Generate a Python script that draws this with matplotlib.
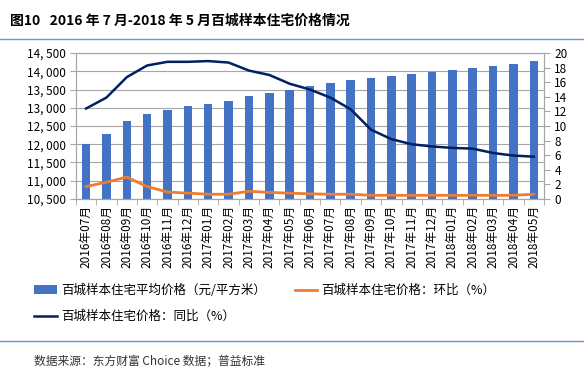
import numpy as np
import matplotlib.pyplot as plt
from matplotlib.lines import Line2D
from matplotlib.ticker import FuncFormatter, MultipleLocator

plt.rcParams['font.family'] = ['Noto Sans CJK SC', 'DejaVu Sans']

# 月份
months = ['2016年07月', '2016年08月', '2016年09月', '2016年10月', '2016年11月', '2016年12月',
          '2017年01月', '2017年02月', '2017年03月', '2017年04月', '2017年05月', '2017年06月',
          '2017年07月', '2017年08月', '2017年09月', '2017年10月', '2017年11月', '2017年12月',
          '2018年01月', '2018年02月', '2018年03月', '2018年04月', '2018年05月']

# 百城样本住宅平均价格（元/平方米）
avg_price = [12000, 12270, 12630, 12820, 12930, 13040, 13100, 13180, 13310, 13400, 13500, 13590,
             13680, 13750, 13810, 13870, 13930, 13980, 14040, 14090, 14150, 14190, 14280]
# 环比（%）
mom = [1.7, 2.3, 3.0, 1.7, 0.95, 0.8, 0.65, 0.65, 1.05, 0.9, 0.8, 0.7,
       0.65, 0.65, 0.5, 0.5, 0.5, 0.5, 0.5, 0.5, 0.5, 0.5, 0.65]
# 同比（%）
yoy = [12.4, 13.9, 16.7, 18.3, 18.8, 18.8, 18.9, 18.7, 17.6, 17.0, 15.8, 15.0,
       13.9, 12.3, 9.5, 8.2, 7.5, 7.2, 7.0, 6.9, 6.3, 5.95, 5.8]

blue = '#4472C4'
orange = '#ED7D31'
navy = '#002060'
grid_c = '#A6A6A6'

fig = plt.figure(figsize=(5.84, 3.79), dpi=100)
ax = fig.add_axes([0.130, 0.475, 0.8015, 0.385])
x = np.arange(len(months))

bars = ax.bar(x, avg_price, width=0.42, color=blue, zorder=2)
ax.set_ylim(10500, 14500)
ax.set_xlim(-0.5, len(months) - 0.5)
ax.yaxis.set_major_locator(MultipleLocator(500))
ax.yaxis.set_major_formatter(FuncFormatter(lambda v, p: f'{int(v):,}'.replace(',', ', ')))
ax.grid(axis='y', color=grid_c, linewidth=0.8, zorder=0)
ax.set_axisbelow(True)

ax.set_xticks(x)
ax.set_xticklabels(months, rotation=90, fontsize=8.5)
ax.set_xticks(np.arange(-0.5, len(months), 1), minor=True)
ax.tick_params(axis='x', which='major', length=0, pad=4)
ax.tick_params(axis='x', which='minor', length=4, color=grid_c, direction='out')
ax.tick_params(axis='y', labelsize=8.5, length=4, color=grid_c)

ax2 = ax.twinx()
l1, = ax2.plot(x, mom, color=orange, linewidth=2, zorder=3)
l2, = ax2.plot(x, yoy, color=navy, linewidth=1.8, zorder=3)
ax2.set_ylim(0, 20)
ax2.yaxis.set_major_locator(MultipleLocator(2))
ax2.tick_params(axis='y', labelsize=8.5, length=4, color=grid_c)

for a in (ax, ax2):
    for s in a.spines.values():
        s.set_color(grid_c)
        s.set_linewidth(0.8)

fig.legend([bars, l2, l1],
           ['百城样本住宅平均价格（元/平方米）', '百城样本住宅价格：同比（%）', '百城样本住宅价格：环比（%）'],
           ncol=2, loc='upper left', bbox_to_anchor=(0.050, 0.264), frameon=False,
           fontsize=9, handlelength=1.8, handletextpad=0.35, columnspacing=2.3,
           labelspacing=1.05, borderaxespad=0)

fig.text(0.017, 0.945, '图10   2016 年 7 月-2018 年 5 月百城样本住宅价格情况',
         fontsize=10, fontweight='bold', va='center')
fig.add_artist(Line2D([0, 1], [0.897, 0.897], color='#5B9BD5', linewidth=1))
fig.add_artist(Line2D([0, 1], [0.100, 0.100], color='#5B9BD5', linewidth=1))
fig.text(0.058, 0.048, '数据来源：东方财富 Choice 数据；普益标准', fontsize=8.5, va='center', color='#333333')

fig.savefig('out.png', dpi=100)
